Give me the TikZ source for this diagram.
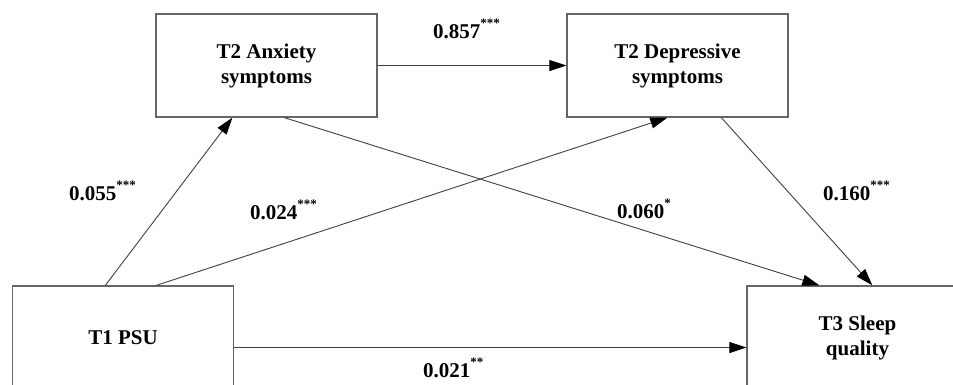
\documentclass[tikz,border=0pt]{standalone}
\usepackage{fontspec}
\setmainfont{Liberation Serif}
\usetikzlibrary{arrows.meta}
\newcommand{\sgf}[1]{\raisebox{11pt}{\fontsize{13}{13}\selectfont #1}}
\begin{document}
\begin{tikzpicture}[x=1pt,y=-1pt,
 box/.style={draw=black!60, line width=1.3pt, minimum width=221pt, minimum height=103pt, inner sep=0pt, align=center, font=\fontsize{21}{25}\selectfont\bfseries},
 arr/.style={draw=black!75, line width=0.9pt, -{Triangle[length=17pt,width=11pt,color=black]}},
 lab/.style={font=\fontsize{21}{25}\selectfont\bfseries, inner sep=0pt, anchor=base west}]
\useasboundingbox (0,0) rectangle (953,384);
\clip (0,0) rectangle (953,384);
\node[box] (anx) at (266.5,65.5) {T2 Anxiety\\symptoms};
\node[box] (dep) at (677.5,65.5) {T2 Depressive\\symptoms};
\node[box] (psu) at (123,337.5) {T1 PSU};
\node[box] (slp) at (857.5,337.5) {T3 Sleep\\quality};
\draw[arr] (anx.east) -- (dep.west);
\draw[arr] ([xshift=93.5pt]psu.north west) -- ([xshift=77pt]anx.south west);
\draw[arr] ([xshift=144.5pt]psu.north west) -- ([xshift=101pt]dep.south west);
\draw[arr] ([xshift=129pt]anx.south west) -- ([xshift=73pt]slp.north west);
\draw[arr] ([xshift=155pt]dep.south west) -- ([xshift=126pt]slp.north west);
\draw[arr] ([yshift=-10pt]psu.east) -- ([yshift=-10pt]slp.west);
\node[lab] (l1) at (433,38) {0.857\sgf{***}};
\node[lab] (l2) at (69,200) {0.055\sgf{***}};
\node[lab] (l3) at (250,219) {0.024\sgf{***}};
\node[lab] (l4) at (617,218) {0.060\sgf{*}};
\node[lab] (l5) at (823,200) {0.160\sgf{***}};
\node[lab] (l6) at (423,377) {0.021\sgf{**}};
\end{tikzpicture}
\end{document}
